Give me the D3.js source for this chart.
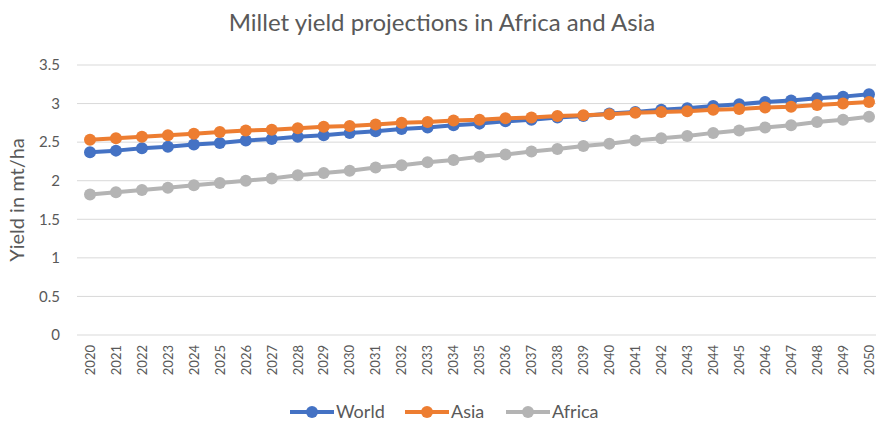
<!DOCTYPE html>
<html>
<head>
<meta charset="utf-8">
<script src="https://cdn.jsdelivr.net/npm/d3@7"></script>
<style>
  body { margin: 0; background: #fff; }
  text { font-family: Lato, "Open Sans", sans-serif; fill: #595959; }
</style>
</head>
<body>
<svg id="chart" width="876" height="423"></svg>
<script>
// Millet yield projections (mt/ha), 2020–2050
const years = d3.range(2020, 2051).map(String);
const world = [2.37, 2.39, 2.42, 2.44, 2.47, 2.49, 2.52, 2.54, 2.57, 2.59, 2.62, 2.64, 2.67, 2.69, 2.72, 2.74,
               2.77, 2.79, 2.82, 2.84, 2.87, 2.89, 2.92, 2.94, 2.97, 2.99, 3.02, 3.04, 3.07, 3.09, 3.12];
const asia = [2.53, 2.55, 2.57, 2.59, 2.61, 2.63, 2.65, 2.66, 2.68, 2.70, 2.71, 2.73, 2.75, 2.76, 2.78, 2.79,
              2.81, 2.82, 2.84, 2.85, 2.86, 2.88, 2.89, 2.90, 2.92, 2.93, 2.95, 2.96, 2.98, 3.00, 3.02];
const africa = [1.82, 1.85, 1.88, 1.91, 1.94, 1.97, 2.00, 2.03, 2.07, 2.10, 2.13, 2.17, 2.20, 2.24, 2.27, 2.31,
                2.34, 2.38, 2.41, 2.45, 2.48, 2.52, 2.55, 2.58, 2.62, 2.65, 2.69, 2.72, 2.76, 2.79, 2.83];
const yTicks = [0, 0.5, 1, 1.5, 2, 2.5, 3, 3.5];

const seriesNames = ["World", "Asia", "Africa"];
const seriesColors = ["#4472C4", "#ED7D31", "#B4B4B4"];
const series = [world, asia, africa].map((values, i) => ({
  name: seriesNames[i], color: seriesColors[i], values
}));

const svg = d3.select("#chart");
const plot = { left: 77, right: 876, top: 65, bottom: 335 };

const x = d3.scalePoint().domain(years).range([90, 869]);
const y = d3.scaleLinear().domain([0, 3.5]).range([plot.bottom, plot.top]);

// Title
svg.append("text")
  .attr("x", 442).attr("y", 31)
  .attr("text-anchor", "middle")
  .style("font-size", "24px")
  .text("Millet yield projections in Africa and Asia");

// Horizontal gridlines
svg.append("g").selectAll("line").data(yTicks).join("line")
  .attr("x1", plot.left).attr("x2", plot.right)
  .attr("y1", d => y(d)).attr("y2", d => y(d))
  .attr("stroke", "#D9D9D9").attr("stroke-width", 1);

// Y axis labels
const yAxis = d3.axisLeft(y).tickValues(yTicks).tickFormat(d3.format("")).tickSize(0).tickPadding(0);
svg.append("g")
  .attr("transform", `translate(60,0)`)
  .call(yAxis)
  .call(g => g.select(".domain").remove())
  .call(g => g.selectAll("text").style("font-size", "15px").attr("fill", "#595959")
    .style("font-family", "Lato, 'Open Sans', sans-serif"));

// Y axis title
svg.append("text")
  .attr("transform", "translate(24,200) rotate(-90)")
  .attr("text-anchor", "middle")
  .style("font-size", "20px")
  .text("Yield in mt/ha");

// X axis labels (rotated)
const xAxis = d3.axisBottom(x).tickSize(0).tickPadding(0);
svg.append("g")
  .attr("transform", `translate(0,${plot.bottom})`)
  .call(xAxis)
  .call(g => g.select(".domain").remove())
  .call(g => g.selectAll("text")
    .attr("transform", "rotate(-90)")
    .attr("text-anchor", "end")
    .attr("x", -10).attr("y", 0).attr("dy", "0.33em")
    .attr("fill", "#595959")
    .style("font-size", "13px")
    .style("font-family", "Lato, 'Open Sans', sans-serif"));

// Series lines and markers
const line = d3.line().x((d, i) => x(years[i])).y(d => y(d));
series.forEach(s => {
  const g = svg.append("g");
  g.append("path")
    .attr("d", line(s.values))
    .attr("fill", "none")
    .attr("stroke", s.color)
    .attr("stroke-width", 4)
    .attr("stroke-linejoin", "round")
    .attr("stroke-linecap", "round");
  g.selectAll("circle").data(s.values).join("circle")
    .attr("cx", (d, i) => x(years[i]))
    .attr("cy", d => y(d))
    .attr("r", 6)
    .attr("fill", s.color);
});

// Legend
const legendX = [290, 405, 506];
const legend = svg.append("g");
series.forEach((s, i) => {
  const lx = legendX[i];
  legend.append("line")
    .attr("x1", lx).attr("x2", lx + 44)
    .attr("y1", 412).attr("y2", 412)
    .attr("stroke", s.color).attr("stroke-width", 4);
  legend.append("circle")
    .attr("cx", lx + 22).attr("cy", 412).attr("r", 6)
    .attr("fill", s.color);
  legend.append("text")
    .attr("x", lx + 46).attr("y", 412).attr("dy", "0.35em")
    .style("font-size", "18px")
    .text(s.name);
});
</script>
</body>
</html>
